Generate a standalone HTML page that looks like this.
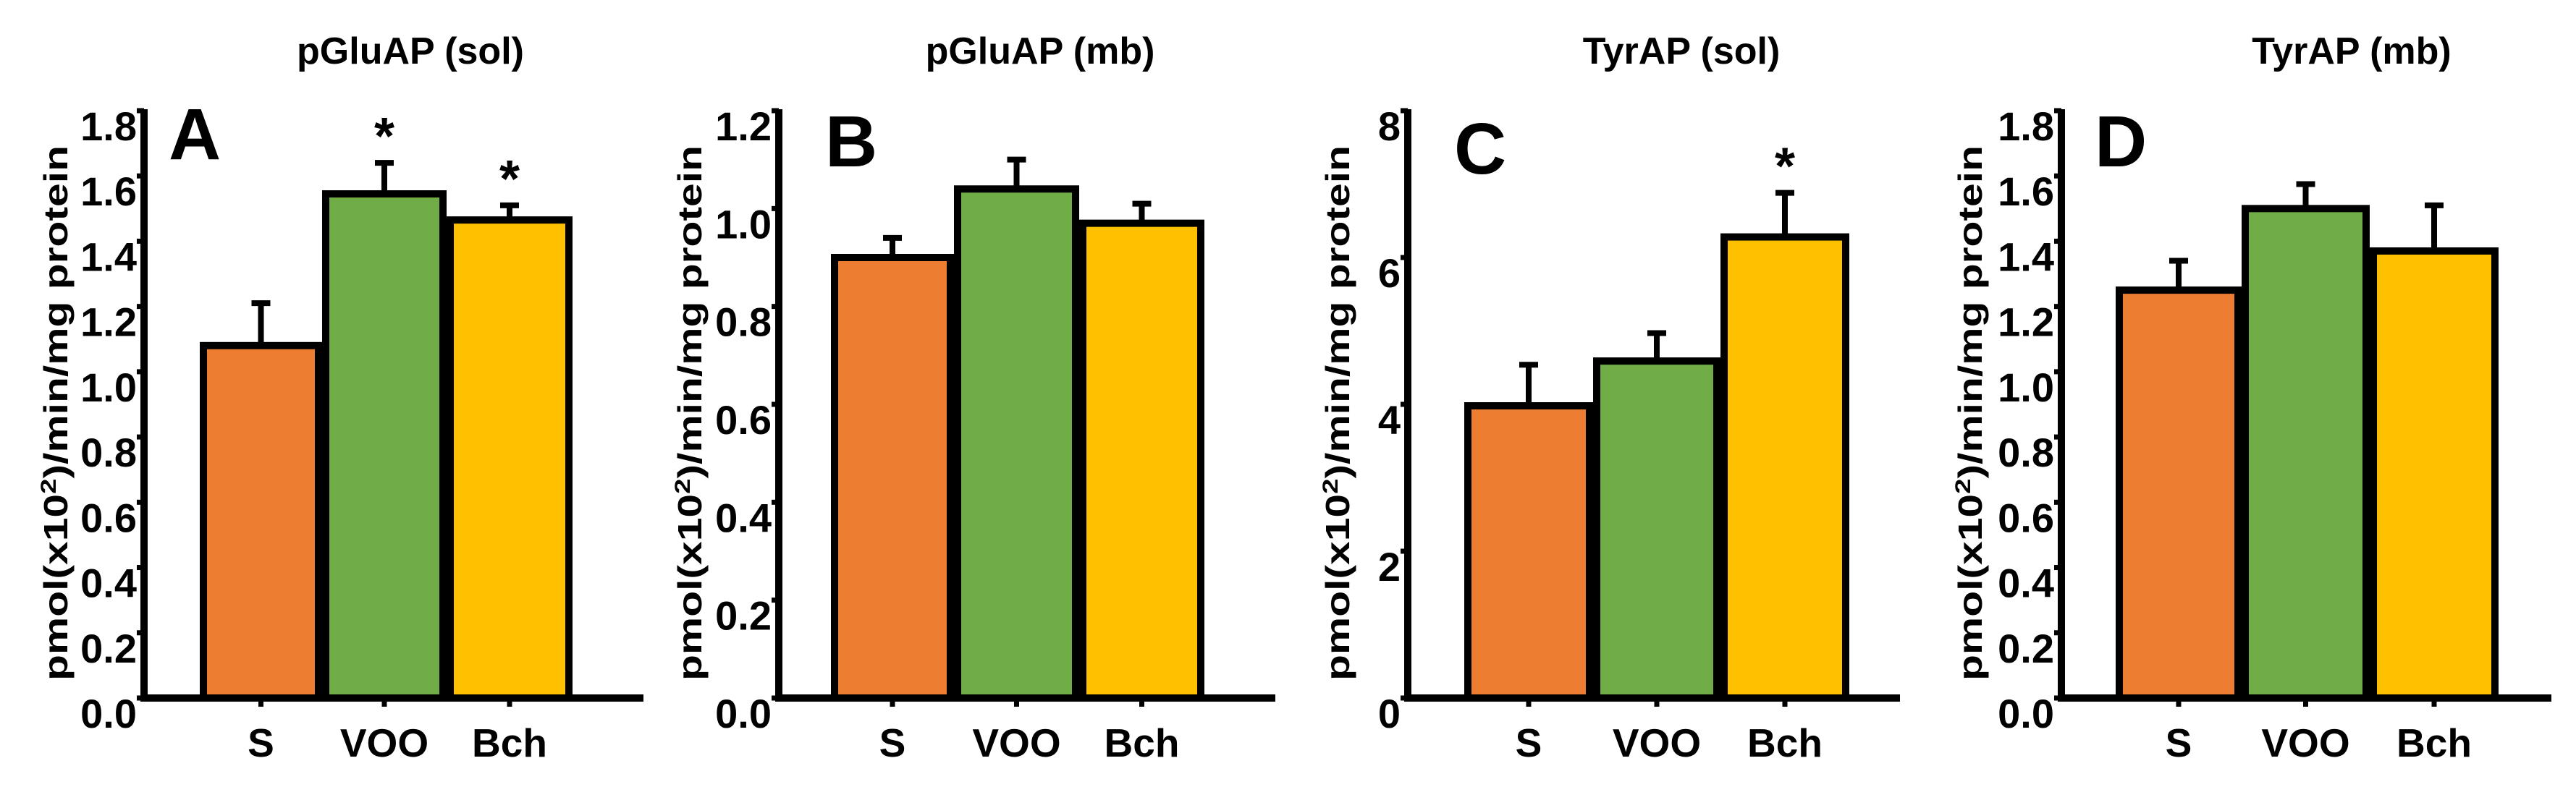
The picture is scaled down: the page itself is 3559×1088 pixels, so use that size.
<!DOCTYPE html>
<html><head><meta charset="utf-8"><style>
html,body{margin:0;padding:0;background:#fff;}
svg{display:block;font-family:"Liberation Sans",Arial,sans-serif;font-weight:bold;}
</style></head><body>
<svg id="chart" width="3559" height="1088" viewBox="0 0 3559 1088" xmlns="http://www.w3.org/2000/svg"></svg>
<script>
const categories = ["S","VOO","Bch"];
const colors = ["#ED7D31","#70AD47","#FFC000"];
const titles = ["pGluAP (sol)","pGluAP (mb)","TyrAP (sol)","TyrAP (mb)"];
const letters = ["A","B","C","D"];
const valuesA = [1.08,1.545,1.465];
const errorsA = [1.21,1.64,1.51];
const valuesB = [0.90,1.04,0.97];
const errorsB = [0.94,1.10,1.01];
const valuesC = [3.98,4.59,6.28];
const errorsC = [4.54,4.97,6.88];
const valuesD = [1.25,1.50,1.37];
const errorsD = [1.34,1.575,1.51];
const sigA = [false,true,true];
const sigB = [false,false,false];
const sigC = [false,false,true];
const sigD = [false,false,false];
const ticksA = ["0.0","0.2","0.4","0.6","0.8","1.0","1.2","1.4","1.6","1.8"];
const ticksB = ["0.0","0.2","0.4","0.6","0.8","1.0","1.2"];
const ticksC = ["0","2","4","6","8"];
const ticksD = ["0.0","0.2","0.4","0.6","0.8","1.0","1.2","1.4","1.6","1.8"];

const panels = [
 {vals:valuesA,errs:errorsA,sig:sigA,ticks:ticksA,max:1.8,ax:199,bars:[276,445,617,791],end:889,titleX:567,letterX:233,letterY:220,yt:78},
 {vals:valuesB,errs:errorsB,sig:sigB,ticks:ticksB,max:1.2,ax:1076,bars:[1148,1318,1491,1664],end:1762,titleX:1437,letterX:1140,letterY:230,yt:954},
 {vals:valuesC,errs:errorsC,sig:sigC,ticks:ticksC,max:8,ax:1945,bars:[2023,2201,2377,2555],end:2625,titleX:2323,letterX:2009,letterY:240,yt:1849},
 {vals:valuesD,errs:errorsD,sig:sigD,ticks:ticksD,max:1.8,ax:2848,bars:[2923,3097,3274,3452],end:3525,titleX:3249,letterX:2894,letterY:230,yt:2723}
];
const svg = document.getElementById('chart');
const NS = "http://www.w3.org/2000/svg";
function mk(tag, attrs, parent){
  const e = document.createElementNS(NS, tag);
  for (const k in attrs) e.setAttribute(k, attrs[k]);
  parent.appendChild(e);
  return e;
}
const yBase = 965, yTop = 153;
panels.forEach((p, pi) => {
  const g = mk('g', {}, svg);
  
  
  const y = v => yBase - v / p.max * (yBase - yTop);
  const t = mk('text', {x:p.titleX, y:88, 'text-anchor':'middle', 'font-size':52}, g);
  t.textContent = titles[pi];
  
  
  const l = mk('text', {x:p.letterX, y:p.letterY, 'font-size':100}, g);
  l.textContent = letters[pi];
  
  
  const yt = mk('text', {x:0, y:0, 'text-anchor':'middle', 'font-size':46, textLength:740, lengthAdjust:'spacingAndGlyphs', transform:`translate(${p.yt+15},571) rotate(-90)`}, g);
  const t1 = mk('tspan', {}, yt); t1.textContent = 'pmol(x10';
  const t2 = mk('tspan', {'font-size':30, dy:-16}, yt); t2.textContent = '2';
  const t3 = mk('tspan', {dy:16}, yt); t3.textContent = ')/min/mg protein';
  
  
  p.vals.forEach((v, i) => {
    const x0 = p.bars[i], x1 = p.bars[i+1], cx = (x0 + x1) / 2;
    const ey = y(p.errs[i]);
    const eb = mk('path', {d:`M${cx} ${y(v)} V${ey} M${cx-13} ${ey} H${cx+13}`, stroke:'#000', 'stroke-width':8, fill:'none'}, g);
    
    
    const r = mk('rect', {x:x0+5, y:y(v), width:x1-x0-10, height:yBase - y(v), fill:colors[i], stroke:'#000', 'stroke-width':10}, g);
    
    
    if (p.sig[i]) {
      const s = mk('text', {x:cx, y:ey - 12, 'text-anchor':'middle', 'font-size':72}, g);
      s.textContent = '*';
      
      
    }
    const tk = mk('line', {x1:cx, x2:cx, y1:yBase, y2:yBase+12, stroke:'#000', 'stroke-width':7}, g);
    
    
    const xl = mk('text', {x:cx, y:1046, 'text-anchor':'middle', 'font-size':55}, g);
    xl.textContent = categories[i];
    
    
  });
  p.ticks.forEach((tl) => {
    const v = parseFloat(tl), ty = y(v);
    const tk = mk('line', {x1:p.ax-10, x2:p.ax, y1:ty, y2:ty, stroke:'#000', 'stroke-width':7}, g);
    
    
    const tt = mk('text', {x:p.ax-10, y:ty + 41, 'text-anchor':'end', 'font-size':56}, g);
    tt.textContent = tl;
    
    
  });
  const axes = mk('path', {d:`M${p.ax} ${yTop-2} V${yBase} H${p.end}`, stroke:'#000', 'stroke-width':10, fill:'none'}, g);
  
  
});
</script>
</body></html>
